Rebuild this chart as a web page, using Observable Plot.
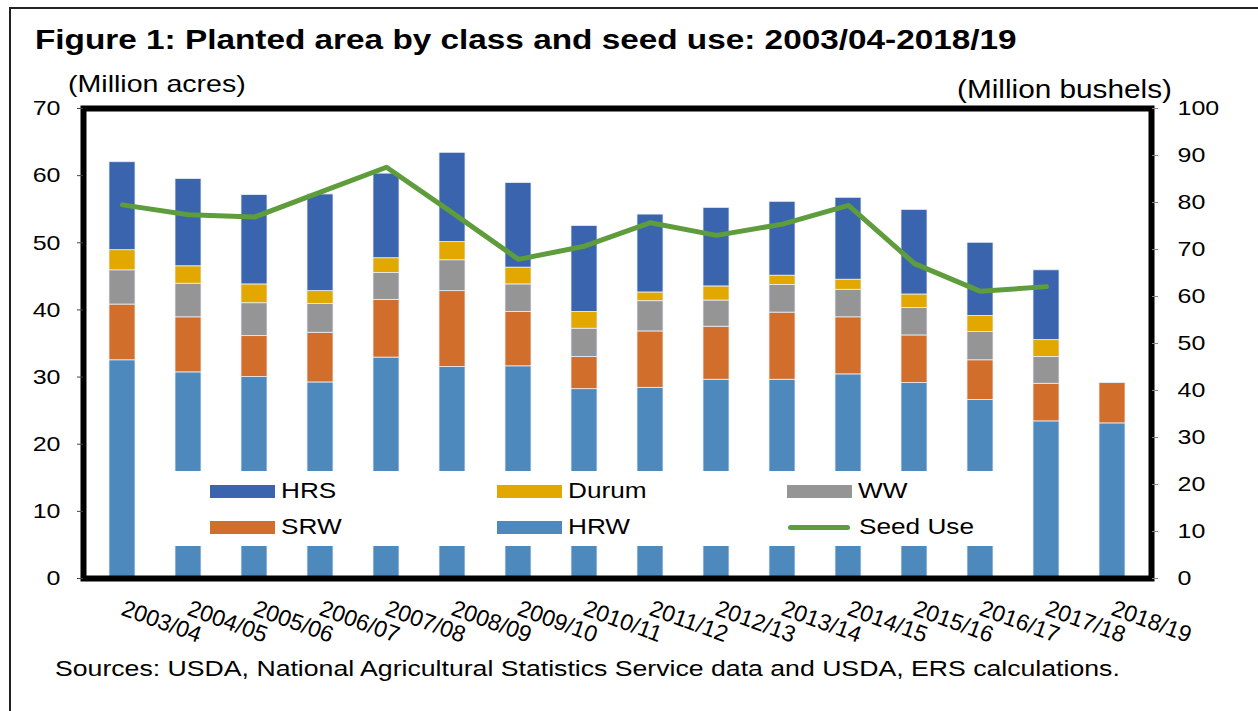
<!DOCTYPE html>
<html><head><meta charset="utf-8">
<script src="https://cdn.jsdelivr.net/npm/d3@7"></script>
<script src="https://cdn.jsdelivr.net/npm/@observablehq/plot@0.6"></script>
<style>
body{margin:0;background:#fff;font-family:"Liberation Sans",Arial,sans-serif;}
#wrap{position:relative;width:1258px;height:711px;overflow:hidden;background:#fff;}
#chart{position:absolute;left:0;top:0;}
.t{position:absolute;line-height:1;white-space:nowrap;transform-origin:0 0;transform:scaleX(1.19);color:#000;}
#outer{position:absolute;left:9px;top:7px;width:1400px;height:800px;border-left:2px solid #222;border-top:2px solid #222;}
#legend{position:absolute;left:150px;top:471px;width:860px;height:75px;background:#fff;}
.sw{position:absolute;width:65px;height:13px;}
.ln{position:absolute;width:62px;height:5px;border-radius:3px;}
.lt{position:absolute;font-size:22px;line-height:1;white-space:nowrap;transform-origin:0 0;transform:scaleX(1.19);}
</style>
</head><body>
<div id="wrap">
  <div id="chart"></div>
  <div id="outer"></div>
  <div id="legend"></div>
  <div class="t" style="left:35px;top:26px;font-size:28px;font-weight:bold;">Figure 1: Planted area by class and seed use: 2003/04-2018/19</div>
  <div class="t" style="left:68px;top:72px;font-size:24px;">(Million acres)</div>
  <div class="t" style="left:957px;top:77px;font-size:25px;">(Million bushels)</div>
  <div class="t" style="left:55px;top:658px;font-size:22.4px;">Sources: USDA, National Agricultural Statistics Service data and USDA, ERS calculations.</div>
</div>
<script>
const years = ["2003/04","2004/05","2005/06","2006/07","2007/08","2008/09","2009/10","2010/11","2011/12","2012/13","2013/14","2014/15","2015/16","2016/17","2017/18","2018/19"];
const classes = ["HRS","Durum","WW","SRW","HRW"];
const classColors = ["#3A64AD","#E2A800","#959595","#D26E2B","#4E89BE"];
const seedColor = "#5E9C3C";
const stackOrder = ["HRW","SRW","WW","Durum","HRS"];

const HRW   = [32.5,30.7,30.0,29.2,32.9,31.5,31.6,28.2,28.4,29.6,29.6,30.4,29.1,26.6,23.4,23.1];
const SRW   = [8.3,8.2,6.1,7.4,8.6,11.3,8.1,4.8,8.4,7.9,10.0,8.5,7.1,5.9,5.6,6.0];
const WW    = [5.1,5.0,4.9,4.3,4.0,4.6,4.1,4.2,4.5,3.9,4.1,4.1,4.1,4.2,4.0,0];
const Durum = [3.0,2.6,2.8,1.9,2.2,2.7,2.5,2.5,1.3,2.1,1.4,1.5,2.0,2.4,2.5,0];
const HRS   = [13.1,13.0,13.3,14.4,12.6,13.3,12.6,12.8,11.6,11.7,11.0,12.2,12.6,10.9,10.4,0];
const seedUse = [79.5,77.4,76.9,82.2,87.5,77.8,67.9,70.7,75.7,73.0,75.4,79.4,67.0,61.1,62.1,null];

const leftTicks = [0,10,20,30,40,50,60,70];
const rightTicks = [0,10,20,30,40,50,60,70,80,90,100];
const ratio = 70/100; // right axis (bushels) to left axis (acres)

const series = {HRS, Durum, WW, SRW, HRW};
const barData = [];
years.forEach((yr,i)=>{
  for (const c of stackOrder){
    const v = series[c][i];
    if (v > 0) barData.push({year:yr, cls:c, value:v});
  }
});
const seedData = years.map((yr,i)=>({year:yr, seed:seedUse[i]})).filter(d=>d.seed!=null);

const chart = Plot.plot({
  width:1258, height:711,
  marginTop:108, marginBottom:133, marginLeft:83, marginRight:107,
  style:{fontFamily:"'Liberation Sans', Arial, sans-serif", fontSize:"21px", color:"#000", background:"transparent", overflow:"visible"},
  x:{domain:years, paddingInner:0.6, paddingOuter:0.3, label:null, axis:null},
  y:{domain:[0,70], label:null, axis:null},
  color:{domain:classes, range:classColors},
  marks:[
    Plot.barY(barData, Plot.stackY({x:"year", y:"value", fill:"cls", z:"cls", order:stackOrder, stroke:"#e8eef5", strokeWidth:0.8})),
    Plot.line(seedData, {x:"year", y:d=>d.seed*ratio, stroke:seedColor, strokeWidth:5, strokeLinejoin:"round"}),
    Plot.frame({stroke:"#000", strokeWidth:6}),
    Plot.axisY({anchor:"left", ticks:leftTicks, tickSize:6, tickPadding:17, stroke:"#444", label:null}),
    Plot.axisY({anchor:"right", ticks:rightTicks.map(v=>v*ratio), tickFormat:d=>String(Math.round(d/ratio)), tickSize:6, tickPadding:20, stroke:"#888", label:null}),
    Plot.axisX({anchor:"bottom", tickSize:0, tickRotate:20, tickPadding:29, fontSize:23, label:null})
  ]
});
document.getElementById("chart").appendChild(chart);
d3.select(chart).selectAll('g[aria-label="y-axis tick label"] text').each(function(){
  const t = this.getAttribute("transform") || "";
  this.setAttribute("transform", t + " scale(1.19,1)");
});

// legend (HTML overlay)
const legend = document.getElementById("legend");
const L = 150, T = 471;
const items = [
  {name:"HRS", x:210, y:485, kind:"sw"},
  {name:"Durum", x:497, y:485, kind:"sw"},
  {name:"WW", x:787, y:485, kind:"sw"},
  {name:"SRW", x:210, y:521, kind:"sw"},
  {name:"HRW", x:497, y:521, kind:"sw"},
  {name:"Seed Use", x:788, y:525, kind:"ln"}
];
for (const it of items){
  const s = document.createElement("div");
  s.className = it.kind;
  s.style.left = (it.x - L) + "px";
  s.style.top = (it.y - T) + "px";
  s.style.background = it.kind === "ln" ? seedColor : classColors[classes.indexOf(it.name)];
  legend.appendChild(s);
  const tx = document.createElement("div");
  tx.className = "lt";
  tx.textContent = it.name;
  tx.style.left = (it.x + 71 - L) + "px";
  tx.style.top = ((it.kind === "ln" ? 527 : it.y + 6) - 11 - T) + "px";
  legend.appendChild(tx);
}
</script>
</body></html>
